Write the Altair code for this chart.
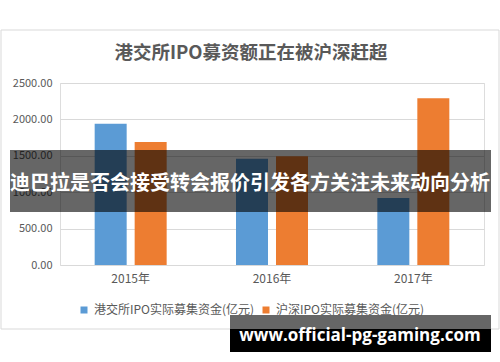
import altair as alt
import pandas as pd

years = ["2015年", "2016年", "2017年"]
series = ["港交所IPO实际募集资金(亿元)", "沪深IPO实际募集资金(亿元)"]
hk_values = [1940, 1460, 920]
sz_values = [1690, 1495, 2290]
y_ticks = [0, 500, 1000, 1500, 2000, 2500]
title_text = "港交所IPO募资额正在被沪深赶超"
banner_text = "迪巴拉是否会接受转会报价引发各方关注未来动向分析"
watermark_text = "www.official-pg-gaming.com"

rows = []
for i, y in enumerate(years):
    rows.append({"year": y, "series": series[0], "value": hk_values[i]})
    rows.append({"year": y, "series": series[1], "value": sz_values[i]})
df = pd.DataFrame(rows)
one = pd.DataFrame({"a": [0]})

FONT = "Noto Sans CJK SC"
GRAY = "#595959"
W, H = 424, 182
OX, OY = 60, 83  # plot origin in page px

frame = alt.Chart(one).mark_rect(fill="white", fillOpacity=0, stroke="#d9d9d9", strokeWidth=1).encode(
    x=alt.value(1 - OX), x2=alt.value(499 - OX), y=alt.value(30 - OY), y2=alt.value(329 - OY)
)

title = alt.Chart(one).mark_text(
    text=title_text, font=FONT, fontSize=18.5, fontWeight="bold", color=GRAY, align="center", baseline="middle"
).encode(x=alt.value(251 - OX), y=alt.value(53 - OY))

bars = alt.Chart(df).mark_bar(size=32).encode(
    x=alt.X("year:N", sort=years, title=None,
            scale=alt.Scale(paddingInner=0, paddingOuter=0),
            axis=alt.Axis(labelAngle=0, ticks=False, domain=False, grid=False, labelFont=FONT,
                          labelFontSize=12, labelColor=GRAY, labelPadding=8)),
    xOffset=alt.XOffset("series:N", sort=series,
                        scale=alt.Scale(paddingInner=0.2, paddingOuter=0.867)),
    y=alt.Y("value:Q", title=None,
            scale=alt.Scale(domain=[0, 2500], nice=False),
            axis=alt.Axis(values=y_ticks, format=".2f", ticks=False, domain=False, gridColor="#d9d9d9",
                          labelFont=FONT, labelFontSize=11, labelColor=GRAY, labelPadding=8)),
    color=alt.Color("series:N", sort=series,
                    scale=alt.Scale(domain=series, range=["#5b9bd5", "#ed7d31"]),
                    legend=alt.Legend(title=None, orient="none", direction="horizontal",
                                      legendX=78 - OX, legendY=304 - OY, symbolType="square",
                                      symbolSize=49, symbolStrokeWidth=0, labelFont=FONT,
                                      labelFontSize=12, labelColor=GRAY, labelOffset=4,
                                      labelLimit=0, columnPadding=5)),
)

band = alt.Chart(one).mark_rect(color="black", opacity=0.6).encode(
    x=alt.value(10 - OX), x2=alt.value(491 - OX), y=alt.value(150 - OY), y2=alt.value(212 - OY)
)
band_text = alt.Chart(one).mark_text(
    text=banner_text, font=FONT, fontSize=20, fontWeight="bold", color="white", align="center", baseline="middle"
).encode(x=alt.value(250 - OX), y=alt.value(184 - OY))

wm_gray = alt.Chart(one).mark_rect(color="#666666").encode(
    x=alt.value(230 - OX), x2=alt.value(491 - OX), y=alt.value(315 - OY), y2=alt.value(329 - OY)
)
wm_black = alt.Chart(one).mark_rect(color="black").encode(
    x=alt.value(230 - OX), x2=alt.value(491 - OX), y=alt.value(329 - OY), y2=alt.value(352 - OY)
)
wm_text = alt.Chart(one).mark_text(
    text=watermark_text, font="Open Sans", fontSize=17, fontWeight="bold", color="white",
    align="center", baseline="middle"
).encode(x=alt.value(360 - OX), y=alt.value(336 - OY))

chart = alt.layer(frame, title, bars, band, band_text, wm_gray, wm_black, wm_text).properties(
    width=W, height=H,
    autosize=alt.AutoSizeParams(type="none"),
    padding={"left": OX, "top": OY, "right": 500 - OX - W, "bottom": 362 - OY - H},
).configure_view(stroke=None).configure(background="white")

chart.save("out.html", embed_options={"renderer": "svg", "actions": False})
